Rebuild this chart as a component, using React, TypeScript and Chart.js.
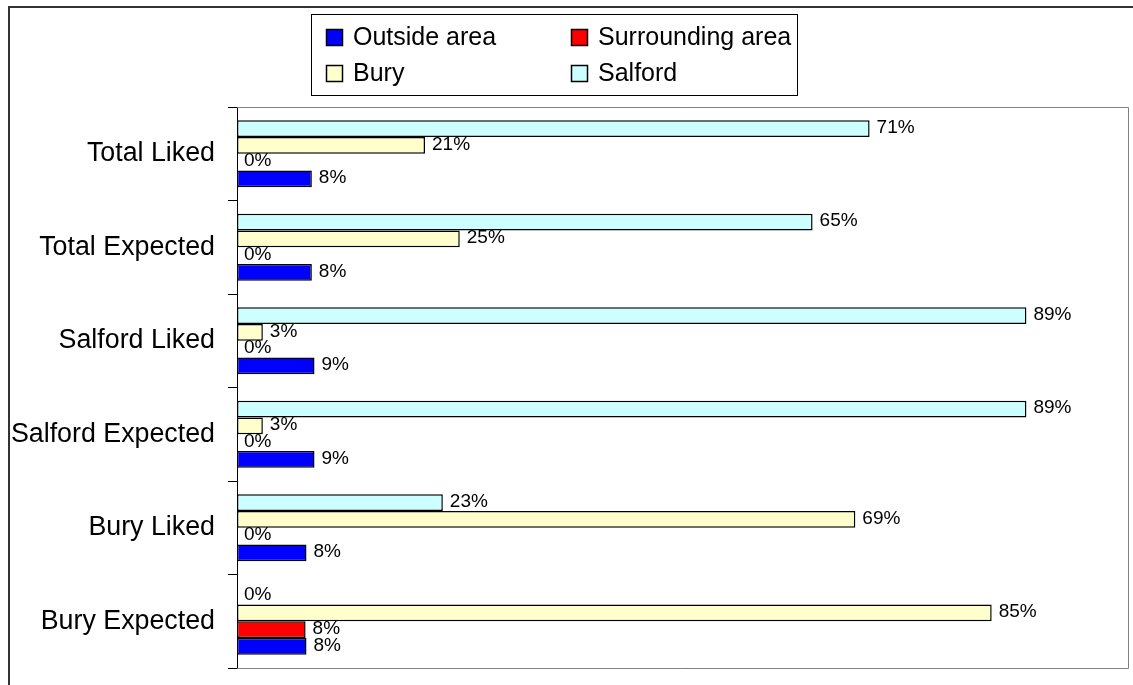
import React, { useEffect, useRef } from "react";
import { Chart, registerables } from "chart.js";

Chart.register(...registerables);

// Categories listed bottom-to-top (y axis is reversed, as in the original spreadsheet chart)
const categories = [
  "Bury Expected",
  "Bury Liked",
  "Salford Expected",
  "Salford Liked",
  "Total Expected",
  "Total Liked",
];

const outsideArea = [7.8, 7.8, 8.7, 8.7, 8.4, 8.4];
const surroundingArea = [7.7, 0, 0, 0, 0, 0];
const bury = [84.7, 69.4, 2.9, 2.9, 25.0, 21.1];
const salford = [0, 23.1, 88.6, 88.6, 64.6, 71.0];

// legend order (row by row, two columns)
const seriesNames = ["Outside area", "Surrounding area", "Bury", "Salford"];
const seriesColors = ["#0000FF", "#FF0000", "#FFFFCC", "#CCFFFF"];

const FONT = '"Liberation Sans", Arial, Helvetica, sans-serif';

const frameAndLegendPlugin = {
  id: "frameAndLegend",
  beforeDatasetsDraw(chart: any) {
    const { ctx, chartArea } = chart;
    const { left, right, top, bottom } = chartArea;
    ctx.save();
    ctx.strokeStyle = "#808080";
    ctx.lineWidth = 1;
    ctx.beginPath();
    ctx.moveTo(left, top + 0.5);
    ctx.lineTo(right + 0.5, top + 0.5);
    ctx.lineTo(right + 0.5, bottom + 0.5);
    ctx.lineTo(left, bottom + 0.5);
    ctx.stroke();
    ctx.restore();
  },
  afterDraw(chart: any) {
    const { ctx } = chart;
    ctx.save();
    // outer chart frame (cut off at right / bottom)
    ctx.strokeStyle = "#333333";
    ctx.lineWidth = 2;
    ctx.beginPath();
    ctx.moveTo(9, chart.height + 5);
    ctx.lineTo(9, 7);
    ctx.lineTo(chart.width + 5, 7);
    ctx.stroke();

    // legend box
    ctx.strokeStyle = "#000000";
    ctx.lineWidth = 1;
    ctx.fillStyle = "#FFFFFF";
    ctx.fillRect(311.5, 14.5, 486, 81);
    ctx.strokeRect(311.5, 14.5, 486, 81);

    const colX = [326, 571];
    const rowY = [37, 73];
    ctx.font = `25px ${FONT}`;
    ctx.textBaseline = "middle";
    ctx.textAlign = "left";
    chart.data.datasets.forEach((ds: any) => {
      const k = seriesNames.indexOf(ds.label);
      if (k < 0) return;
      const x = colX[k % 2];
      const y = rowY[Math.floor(k / 2)];
      ctx.fillStyle = ds.backgroundColor;
      ctx.fillRect(x + 0.5, y - 7.5, 16, 16);
      ctx.strokeStyle = "#000000";
      ctx.lineWidth = 1.5;
      ctx.strokeRect(x + 0.5, y - 7.5, 16, 16);
      ctx.fillStyle = "#000000";
      ctx.fillText(ds.label, x + 27, y + 1);
    });
    ctx.restore();
  },
};

const valueLabelPlugin = {
  id: "valueLabels",
  afterDatasetsDraw(chart: any) {
    const { ctx } = chart;
    ctx.save();
    ctx.font = `19px ${FONT}`;
    ctx.fillStyle = "#000000";
    ctx.textAlign = "left";
    ctx.textBaseline = "middle";
    chart.data.datasets.forEach((ds: any, i: number) => {
      const meta = chart.getDatasetMeta(i);
      meta.data.forEach((bar: any, j: number) => {
        const v = ds.data[j];
        ctx.fillText(`${Math.round(v)}%`, bar.x + 7, bar.y - 1);
      });
    });
    ctx.restore();
  },
};

export default function App() {
  const canvasRef = useRef<HTMLCanvasElement | null>(null);

  useEffect(() => {
    if (!canvasRef.current) return;
    const values = [outsideArea, surroundingArea, bury, salford];
    // draw order: top bar in each group first (Salford ... Outside area)
    const order = [3, 2, 1, 0];
    const chart = new Chart(canvasRef.current, {
      type: "bar",
      data: {
        labels: categories,
        datasets: order.map((i) => ({
          label: seriesNames[i],
          data: values[i],
          backgroundColor: seriesColors[i],
          borderColor: "#000000",
          borderWidth: 1.5,
          borderSkipped: false,
          categoryPercentage: 0.714,
          barPercentage: 1,
        })),
      },
      options: {
        indexAxis: "y",
        responsive: false,
        animation: false,
        devicePixelRatio: 1,
        layout: { padding: { top: 107, bottom: 17, left: 0, right: 5 } },
        plugins: {
          legend: { display: false },
          tooltip: { enabled: false },
          title: { display: false },
        },
        scales: {
          x: {
            display: false,
            min: 0,
            max: 100,
          },
          y: {
            reverse: true,
            afterFit(scale: any) {
              scale.width = 237;
              scale.paddingTop = 0;
              scale.paddingBottom = 0;
            },
            border: { display: true, color: "#000000", width: 1 },
            grid: {
              display: true,
              offset: true,
              drawOnChartArea: false,
              drawTicks: true,
              tickLength: 9,
              color: "#000000",
            },
            ticks: {
              color: "#000000",
              padding: 13,
              font: { family: FONT, size: 26.8 },
            },
          },
        },
      },
      plugins: [frameAndLegendPlugin, valueLabelPlugin],
    } as any);
    return () => chart.destroy();
  }, []);

  return (
    <div style={{ position: "fixed", left: 0, top: 0, width: 1133, height: 685, background: "#FFFFFF" }}>
      <canvas ref={canvasRef} width={1133} height={685} style={{ display: "block" }} />
    </div>
  );
}
